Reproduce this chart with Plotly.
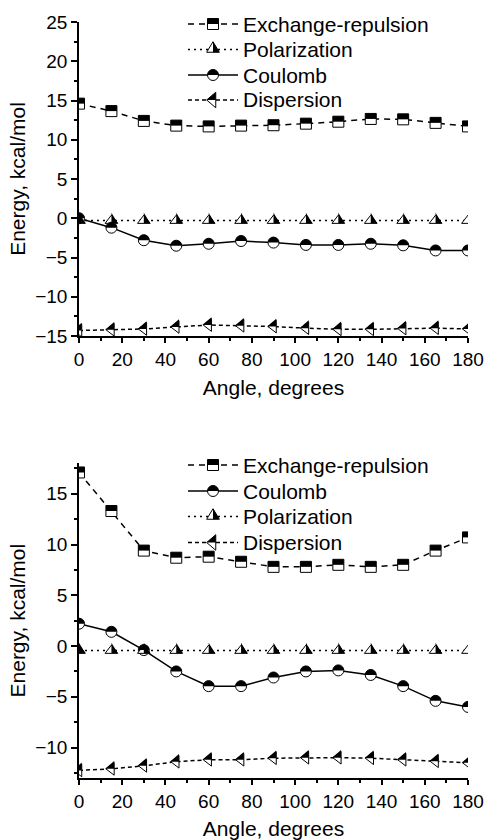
import plotly.graph_objects as go

# angles (degrees)
angle = [0, 15, 30, 45, 60, 75, 90, 105, 120, 135, 150, 165, 180]

# upper panel
exch_top = [14.6, 13.65, 12.4, 11.8, 11.7, 11.8, 11.85, 12.05, 12.3, 12.65, 12.6, 12.15, 11.7]
pol_top = [-0.3, -0.3, -0.3, -0.3, -0.3, -0.3, -0.3, -0.3, -0.3, -0.3, -0.3, -0.3, -0.3]
coul_top = [0.0, -1.2, -2.8, -3.5, -3.25, -2.9, -3.1, -3.4, -3.4, -3.25, -3.45, -4.1, -4.1]
disp_top = [-14.3, -14.2, -14.1, -13.85, -13.6, -13.7, -13.8, -14.0, -14.15, -14.15, -14.05, -14.0, -14.1]

# lower panel
exch_bot = [17.1, 13.3, 9.4, 8.7, 8.8, 8.3, 7.8, 7.8, 8.0, 7.8, 8.0, 9.4, 10.7]
coul_bot = [2.2, 1.4, -0.4, -2.5, -3.95, -3.95, -3.1, -2.5, -2.4, -2.85, -3.95, -5.4, -6.0]
pol_bot = [-0.45, -0.45, -0.45, -0.45, -0.45, -0.45, -0.45, -0.45, -0.45, -0.45, -0.45, -0.45, -0.45]
disp_bot = [-12.25, -12.1, -11.8, -11.4, -11.2, -11.2, -11.05, -11.0, -11.0, -11.05, -11.2, -11.35, -11.5]

FONT = 'Arial, Liberation Sans, sans-serif'
W, H = 488, 840
ML, MR, MT, MB = 79, 20, 22, 62
PW, PH = W - ML - MR, H - MT - MB

MS = 11
r = MS / 2
rt = r * 2 / 3 ** 0.5
rs = r * 2 ** 0.5
k = 0.5523


def circ(half):
    top = (f'M {-r} 0 C {-r} {k*r} {-k*r} {r} 0 {r} '
           f'C {k*r} {r} {r} {k*r} {r} 0 ')
    if half:
        return top + 'Z'
    return top + (f'C {r} {-k*r} {k*r} {-r} 0 {-r} '
                  f'C {-k*r} {-r} {-r} {-k*r} {-r} 0 Z')


# marker outlines / black halves, pixel coords (y up)
paths = {
    'square': (f'M {-r} {-r} L {r} {-r} L {r} {r} L {-r} {r} Z',
               f'M {-r} 0 L {r} 0 L {r} {r} L {-r} {r} Z'),
    'circle': (circ(False), circ(True)),
    'triangle-up': (f'M {-rt} {-r/2} L {rt} {-r/2} L 0 {rs} Z',
                    f'M 0 {rs} L 0 {-r/2} L {rt} {-r/2} Z'),
    'triangle-left': (f'M {-rt} 0 L {r/2} {rs} L {r/2} {-rs} Z',
                      f'M {-rt} 0 L {r/2} {rs} L {r/2} 0 Z'),
}

styles = {
    'Exchange-repulsion': ('square', '6px,5px'),
    'Polarization': ('triangle-up', '2px,4px'),
    'Coulomb': ('circle', 'solid'),
    'Dispersion': ('triangle-left', '4px,3px'),
}

panels = [
    ('x', 'y', [('Exchange-repulsion', exch_top), ('Polarization', pol_top),
                ('Coulomb', coul_top), ('Dispersion', disp_top)],
     [24, 49.5, 75, 100]),
    ('x2', 'y2', [('Exchange-repulsion', exch_bot), ('Coulomb', coul_bot),
                  ('Polarization', pol_bot), ('Dispersion', disp_bot)],
     [465, 491, 516.5, 542.5]),
]

fig = go.Figure()
shapes = []
annotations = []


# page pixel -> paper coords
def px2paper_x(p):
    return (p - ML) / PW


def px2paper_y(p):
    return (H - MB - p) / PH


for xa, ya, series, rows in panels:
    for name, vals in series:
        sym, dash = styles[name]
        fig.add_trace(go.Scatter(
            x=angle, y=vals, xaxis=xa, yaxis=ya, mode='lines+markers', name=name,
            showlegend=False,
            line=dict(color='black', width=1.5, dash=dash),
            marker=dict(symbol=sym, size=MS, color='white',
                        line=dict(color='black', width=1)),
        ))
        for a, v in zip(angle, vals):
            shapes.append(dict(type='path', xref=xa, yref=ya, xsizemode='pixel',
                               ysizemode='pixel', xanchor=a, yanchor=v,
                               path=paths[sym][1], fillcolor='black',
                               line=dict(width=0)))
    # hand-made legend
    for (name, _), py in zip(series, rows):
        sym, dash = styles[name]
        yp = px2paper_y(py)
        shapes.append(dict(type='line', xref='paper', yref='paper',
                           x0=px2paper_x(188), x1=px2paper_x(238), y0=yp, y1=yp,
                           line=dict(color='black', width=1.5, dash=dash)))
        shapes.append(dict(type='path', xref='paper', yref='paper', xsizemode='pixel',
                           ysizemode='pixel', xanchor=px2paper_x(213), yanchor=yp,
                           path=paths[sym][0], fillcolor='white',
                           line=dict(color='black', width=1)))
        shapes.append(dict(type='path', xref='paper', yref='paper', xsizemode='pixel',
                           ysizemode='pixel', xanchor=px2paper_x(213), yanchor=yp,
                           path=paths[sym][1], fillcolor='black', line=dict(width=0)))
        annotations.append(dict(text=name, xref='paper', yref='paper',
                                x=px2paper_x(241), y=yp, xanchor='left', yanchor='middle',
                                showarrow=False, font=dict(size=21, color='black')))

xcommon = dict(range=[0, 180], dtick=20, tick0=0, showline=True, linecolor='black',
               linewidth=1.5, ticks='outside', ticklen=5, tickwidth=1.5, tickcolor='black',
               showgrid=False, zeroline=False, tickfont=dict(size=19), automargin=False,
               minor=dict(dtick=10, ticks='outside', ticklen=3, tickwidth=1.5,
                          tickcolor='black', showgrid=False),
               title=dict(text='Angle, degrees', font=dict(size=21), standoff=12))
ycommon = dict(dtick=5, tick0=0, showline=True, linecolor='black', linewidth=1.5,
               ticks='outside', ticklen=6, tickwidth=1.5, tickcolor='black',
               showgrid=False, zeroline=False, tickfont=dict(size=19), automargin=False,
               minor=dict(dtick=2.5, ticks='outside', ticklen=3, tickwidth=1.5,
                          tickcolor='black', showgrid=False),
               title=dict(text='Energy, kcal/mol', font=dict(size=21), standoff=4))

top_bottom = px2paper_y(336)
bot_top = px2paper_y(463.3)

fig.update_layout(
    width=W, height=H,
    margin=dict(l=ML, r=MR, t=MT, b=MB),
    paper_bgcolor='white', plot_bgcolor='white',
    font=dict(family=FONT, color='black'),
    showlegend=False,
    xaxis=dict(xcommon, anchor='y', domain=[0, 1]),
    yaxis=dict(ycommon, anchor='x', domain=[top_bottom, 1], range=[-15, 25]),
    xaxis2=dict(xcommon, anchor='y2', domain=[0, 1]),
    yaxis2=dict(ycommon, anchor='x2', domain=[0, bot_top], range=[-13, 18]),
    shapes=shapes,
    annotations=annotations,
)

# drop the page's default 8px body margin so the 488x840 figure fills the window
fig.write_html("out.html", config={'displayModeBar': False},
               post_script="document.body.style.margin='0';")
